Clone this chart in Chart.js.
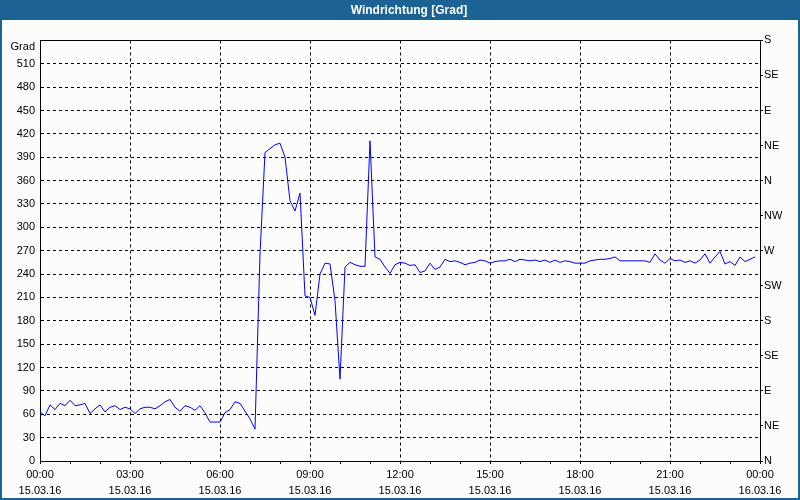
<!DOCTYPE html>
<html>
<head>
<meta charset="utf-8">
<script src="https://cdn.jsdelivr.net/npm/chart.js@4"></script>
<style>
html,body{margin:0;padding:0;background:#ffffff;}
#wrap{width:800px;height:500px;}
</style>
</head>
<body>
<div id="wrap"><canvas id="c" width="800" height="500"></canvas></div>
<script>
const titleText = 'Windrichtung [Grad]';
const yUnitLabel = 'Grad';
const timeLabels = ['00:00','03:00','06:00','09:00','12:00','15:00','18:00','21:00','00:00'];
const dateLabels = ['15.03.16','15.03.16','15.03.16','15.03.16','15.03.16','15.03.16','15.03.16','15.03.16','16.03.16'];
const compassLabels = ['N','NE','E','SE','S','SW','W','NW','N','NE','E','SE','S'];
const sampleMinutes = 10;
const windDir = [
  63,58,72,66,74,71,78,71,72,74,61,67,72,63,69,71,66,69,67,61,67,69,69,67,
  71,76,79,69,64,71,69,65,71,62,50,50,50,62,66,76,74,64,54,41,266,396,401,406,
  408,390,334,321,344,212,210,187,240,254,253,206,105,249,255,252,250,250,411,262,
  259,249,241,252,255,254,251,252,242,244,254,246,249,259,256,257,255,252,254,255,
  258,257,254,256,257,257,259,256,259,258,257,258,256,258,255,258,255,257,256,254,
  254,254,257,258,259,259,260,262,257,257,257,257,257,257,255,266,258,254,260,257,
  258,255,257,254,258,266,254,262,269,253,256,251,262,256,259,262
];

const FONT_FAMILY = "'Liberation Sans', Arial, sans-serif";
const BLUE = '#1d6295';
const BG = '#fbfcfb';

const points = windDir.map((v, i) => ({ x: i * sampleMinutes / 60, y: v }));

const framePlugin = {
  id: 'frame',
  afterLayout(chart) {
    const t = chart.titleBlock;
    if (t) { t.left += 18; }
  },
  beforeDraw(chart) {
    const ctx = chart.ctx;
    ctx.save();
    ctx.fillStyle = BLUE;
    ctx.fillRect(0, 0, chart.width, chart.height);
    ctx.fillStyle = BG;
    ctx.fillRect(2, 20, chart.width - 4, chart.height - 22);
    ctx.restore();
  },
  afterDraw(chart) {
    const ctx = chart.ctx;
    const a = chart.chartArea;
    const y = Math.round(a.top - 0.5) + 0.5;
    ctx.save();
    ctx.strokeStyle = '#000';
    ctx.lineWidth = 1;
    ctx.setLineDash([]);
    ctx.beginPath();
    ctx.moveTo(Math.round(a.left), y);
    ctx.lineTo(Math.round(a.right) + 1, y);
    ctx.stroke();
    ctx.restore();
  }
};

new Chart(document.getElementById('c'), {
  type: 'line',
  data: {
    datasets: [{
      data: points,
      borderColor: '#0000ff',
      borderWidth: 1,
      pointRadius: 0,
      tension: 0,
      fill: false
    }]
  },
  options: {
    responsive: false,
    animation: false,
    devicePixelRatio: 1,
    layout: { padding: { left: 0, right: 0, top: 0, bottom: 0 } },
    plugins: {
      legend: { display: false },
      tooltip: { enabled: false },
      title: {
        display: true,
        text: titleText,
        color: '#ffffff',
        font: { family: FONT_FAMILY, size: 12, weight: 'bold', lineHeight: 1.2 },
        padding: { top: 3, bottom: 23 }
      }
    },
    scales: {
      x: {
        type: 'linear',
        min: 0,
        max: 24,
        ticks: {
          stepSize: 1,
          autoSkip: false,
          maxRotation: 0,
          minRotation: 0,
          color: '#000',
          padding: 3,
          font: { family: FONT_FAMILY, size: 11, lineHeight: 1.45 },
          callback: (v) => (v % 3 === 0) ? [timeLabels[v / 3], dateLabels[v / 3]] : ''
        },
        grid: {
          color: (c) => (c.tick && c.tick.value % 3 === 0 && c.tick.value > 0 && c.tick.value < 24) ? '#000' : 'rgba(0,0,0,0)',
          tickColor: '#000',
          tickLength: 3,
          lineWidth: 1
        },
        border: { display: true, color: '#000', width: 1, dash: [3, 3] },
        afterFit: (s) => { s.height = 39; }
      },
      y: {
        position: 'left',
        min: 0,
        max: 540,
        ticks: {
          stepSize: 30,
          autoSkip: false,
          color: '#000',
          padding: 5,
          font: { family: FONT_FAMILY, size: 11 },
          callback: (v) => v === 540 ? ['', yUnitLabel] : String(v)
        },
        grid: {
          drawTicks: false,
          color: (c) => (c.tick && c.tick.value > 0 && c.tick.value < 540) ? '#000' : 'rgba(0,0,0,0)',
          lineWidth: 1
        },
        border: { display: true, color: '#000', width: 1, dash: [3, 3] },
        afterFit: (s) => { s.width = 40; }
      },
      y2: {
        position: 'right',
        min: 0,
        max: 540,
        ticks: {
          stepSize: 45,
          autoSkip: false,
          color: '#000',
          padding: 1,
          font: { family: FONT_FAMILY, size: 11 },
          callback: (v) => compassLabels[Math.round(v / 45)]
        },
        grid: {
          drawOnChartArea: false,
          tickLength: 3,
          tickColor: '#000'
        },
        border: { display: true, color: '#000', width: 1 },
        afterFit: (s) => { s.width = 40; }
      }
    }
  },
  plugins: [framePlugin]
});
</script>
</body>
</html>
